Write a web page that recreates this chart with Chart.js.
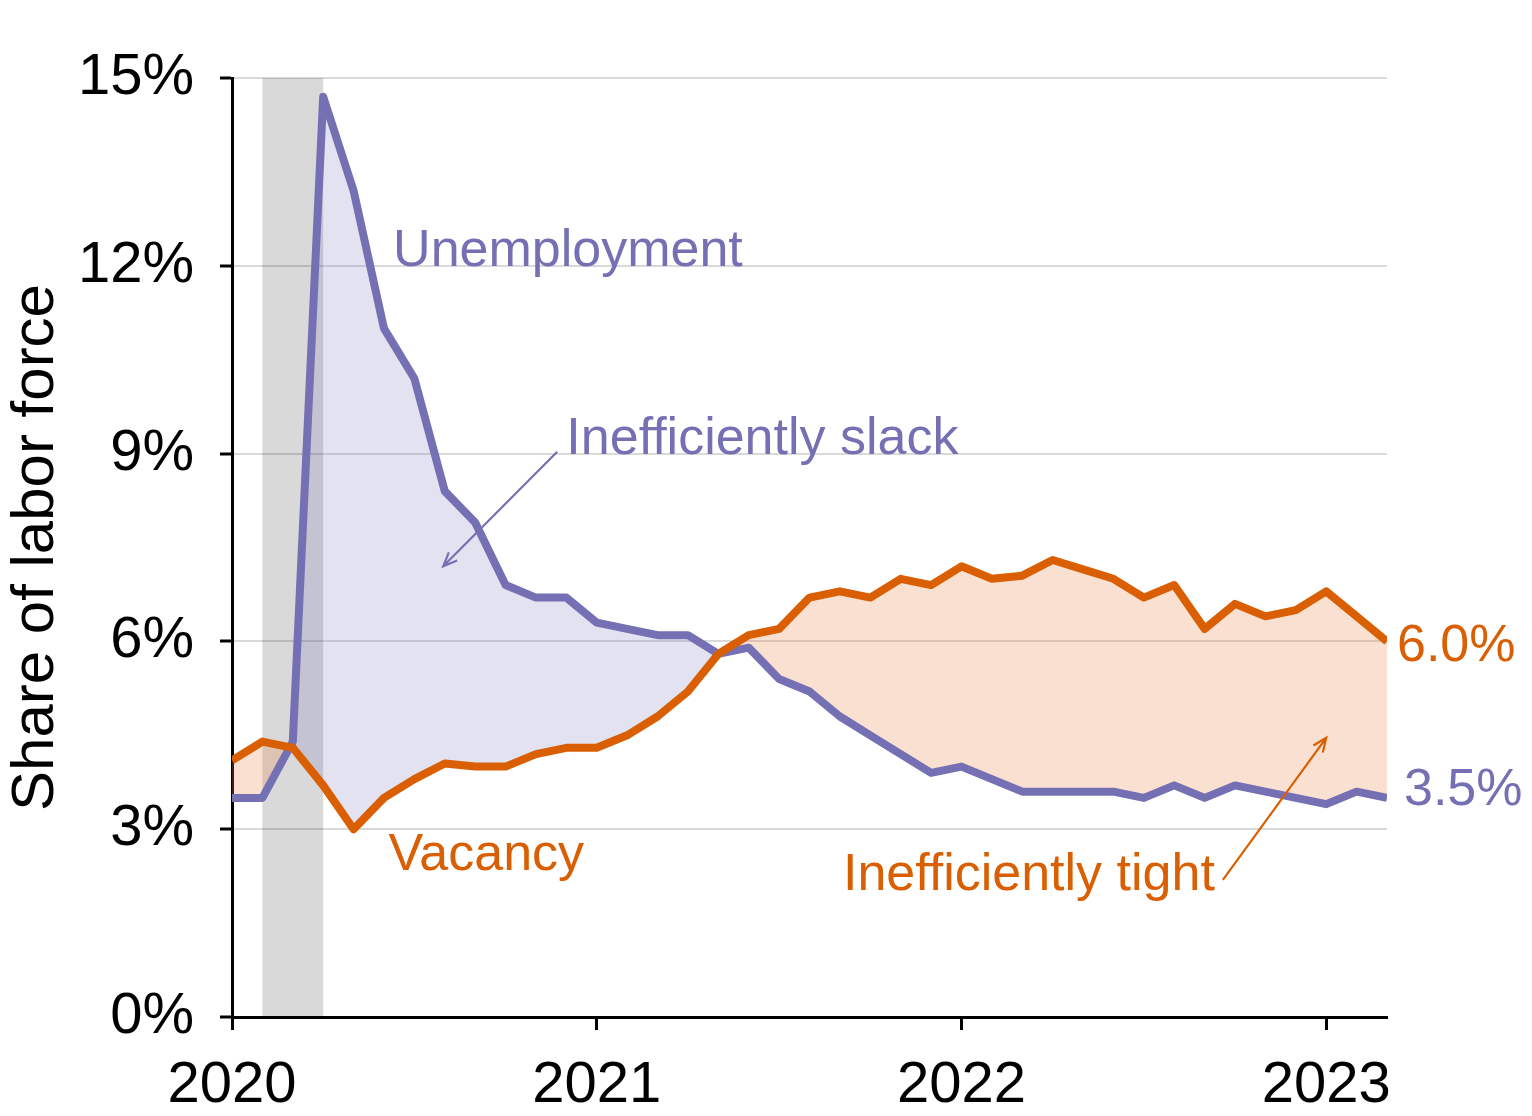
<!DOCTYPE html>
<html>
<head>
<meta charset="utf-8">
<script src="https://cdn.jsdelivr.net/npm/chart.js@4/dist/chart.umd.min.js"></script>
<style>
  html, body { margin: 0; padding: 0; background: #fff; }
  #wrap { width: 1532px; height: 1116px; position: relative; }
</style>
</head>
<body>
<div id="wrap"><canvas id="laborChart"></canvas></div>
<script>
// monthly, Jan 2020 - Mar 2023
const months = [
  '2020-01','2020-02','2020-03','2020-04','2020-05','2020-06','2020-07','2020-08','2020-09','2020-10','2020-11','2020-12',
  '2021-01','2021-02','2021-03','2021-04','2021-05','2021-06','2021-07','2021-08','2021-09','2021-10','2021-11','2021-12',
  '2022-01','2022-02','2022-03','2022-04','2022-05','2022-06','2022-07','2022-08','2022-09','2022-10','2022-11','2022-12',
  '2023-01','2023-02','2023-03'
];
const unemployment = [
  3.5, 3.5, 4.4, 14.7, 13.2, 11.0, 10.2, 8.4, 7.9, 6.9, 6.7, 6.7,
  6.3, 6.2, 6.1, 6.1, 5.8, 5.9, 5.4, 5.2, 4.8, 4.5, 4.2, 3.9,
  4.0, 3.8, 3.6, 3.6, 3.6, 3.6, 3.5, 3.7, 3.5, 3.7, 3.6, 3.5,
  3.4, 3.6, 3.5
];
const vacancy = [
  4.1, 4.4, 4.3, 3.7, 3.0, 3.5, 3.8, 4.05, 4.0, 4.0, 4.2, 4.3,
  4.3, 4.5, 4.8, 5.2, 5.8, 6.1, 6.2, 6.7, 6.8, 6.7, 7.0, 6.9,
  7.2, 7.0, 7.05, 7.3, 7.15, 7.0, 6.7, 6.9, 6.2, 6.6, 6.4, 6.5,
  6.8, 6.4, 6.0
];
const yearTicks = ['2020', '2021', '2022', '2023'];
const yTicks = [0, 3, 6, 9, 12, 15];
const recession = ['2020-02', '2020-04'];

const purple = '#7570b3';
const orange = '#d95f02';
const fontFamily = '"Liberation Sans", Arial, Helvetica, sans-serif';

// text labels and arrows, placed in data space (month index, percent)
const notes = [
  { text: 'Unemployment', x: 5.3, y: 12.0, color: purple },
  { text: 'Inefficiently slack', x: 11.0, y: 9.0, color: purple },
  { text: 'Vacancy', x: 5.15, y: 2.35, color: orange },
  { text: 'Inefficiently tight', x: 20.1, y: 2.03, color: orange }
];
const arrows = [
  { from: [10.7, 9.03], to: [6.95, 7.2], color: purple },
  { from: [32.6, 2.19], to: [36.0, 4.46], color: orange }
];

const monthIndex = m => months.indexOf(m);

const recessionBand = {
  id: 'recessionBand',
  beforeDraw(chart) {
    const { ctx, chartArea, scales } = chart;
    const x0 = scales.x.getPixelForValue(monthIndex(recession[0]));
    const x1 = scales.x.getPixelForValue(monthIndex(recession[1]));
    ctx.save();
    ctx.fillStyle = '#d9d9d9';
    ctx.fillRect(x0, chartArea.top, x1 - x0, chartArea.bottom - chartArea.top);
    ctx.restore();
  }
};

const labelsPlugin = {
  id: 'labelsPlugin',
  afterDatasetsDraw(chart) {
    const { ctx, chartArea, scales } = chart;
    const xs = scales.x, ys = scales.y;
    ctx.save();
    ctx.font = '52px ' + fontFamily;
    ctx.textBaseline = 'alphabetic';
    ctx.textAlign = 'left';
    notes.forEach(n => {
      ctx.fillStyle = n.color;
      ctx.fillText(n.text, xs.getPixelForValue(n.x), ys.getPixelForValue(n.y));
    });

    arrows.forEach(a => {
      const x0 = xs.getPixelForValue(a.from[0]), y0 = ys.getPixelForValue(a.from[1]);
      const x1 = xs.getPixelForValue(a.to[0]), y1 = ys.getPixelForValue(a.to[1]);
      const ang = Math.atan2(y1 - y0, x1 - x0);
      const head = 15;
      ctx.strokeStyle = a.color;
      ctx.lineWidth = 2.2;
      ctx.beginPath();
      ctx.moveTo(x0, y0);
      ctx.lineTo(x1, y1);
      ctx.moveTo(x1 - head * Math.cos(ang - 0.4), y1 - head * Math.sin(ang - 0.4));
      ctx.lineTo(x1, y1);
      ctx.lineTo(x1 - head * Math.cos(ang + 0.4), y1 - head * Math.sin(ang + 0.4));
      ctx.stroke();
    });

    // end values
    ctx.textBaseline = 'middle';
    const last = months.length - 1;
    ctx.fillStyle = orange;
    ctx.fillText(vacancy[last].toFixed(1) + '%', chartArea.right + 10, ys.getPixelForValue(vacancy[last]) + 5);
    ctx.fillStyle = purple;
    ctx.fillText(unemployment[last].toFixed(1) + '%', chartArea.right + 17, ys.getPixelForValue(unemployment[last]) - 7);
    ctx.restore();
  }
};

const ctx = document.getElementById('laborChart').getContext('2d');
new Chart(ctx, {
  type: 'line',
  data: {
    datasets: [
      {
        label: 'Vacancy',
        data: vacancy.map((v, i) => ({ x: i, y: v })),
        borderColor: orange,
        borderWidth: 8,
        borderJoinStyle: 'round',
        pointRadius: 0,
        tension: 0,
        fill: false
      },
      {
        label: 'Unemployment',
        data: unemployment.map((v, i) => ({ x: i, y: v })),
        borderColor: purple,
        borderWidth: 8,
        borderJoinStyle: 'round',
        pointRadius: 0,
        tension: 0,
        fill: {
          target: 0,
          above: 'rgba(117, 112, 179, 0.2)',
          below: 'rgba(236, 130, 70, 0.25)'
        }
      }
    ]
  },
  options: {
    responsive: true,
    maintainAspectRatio: false,
    animation: false,
    devicePixelRatio: 1,
    layout: { padding: { top: 78, right: 145, bottom: 0, left: 0 } },
    plugins: {
      legend: { display: false },
      tooltip: { enabled: false }
    },
    scales: {
      x: {
        type: 'linear',
        min: 0,
        max: months.length - 1,
        afterBuildTicks: scale => {
          scale.ticks = yearTicks.map(y => ({ value: monthIndex(y + '-01') }));
        },
        afterFit: scale => { scale.height = 99; },
        ticks: {
          color: '#000',
          font: { family: fontFamily, size: 58 },
          padding: 21,
          maxRotation: 0,
          callback: v => months[v].slice(0, 4)
        },
        grid: {
          drawOnChartArea: false,
          tickColor: '#000',
          tickLength: 13,
          tickWidth: 3
        },
        border: { color: '#000', width: 3 }
      },
      y: {
        min: 0,
        max: 15,
        afterBuildTicks: scale => {
          scale.ticks = yTicks.map(v => ({ value: v }));
        },
        afterFit: scale => { scale.width = 232; },
        ticks: {
          color: '#000',
          font: { family: fontFamily, size: 58 },
          padding: 26,
          callback: v => v + '%'
        },
        grid: {
          color: 'rgba(0, 0, 0, 0.15)',
          lineWidth: 2,
          tickColor: '#000',
          tickLength: 12,
          tickWidth: 3
        },
        border: { color: '#000', width: 3 },
        title: {
          display: true,
          text: 'Share of labor force',
          color: '#000',
          font: { family: fontFamily, size: 60 },
          padding: 0
        }
      }
    }
  },
  plugins: [recessionBand, labelsPlugin]
});
</script>
</body>
</html>
